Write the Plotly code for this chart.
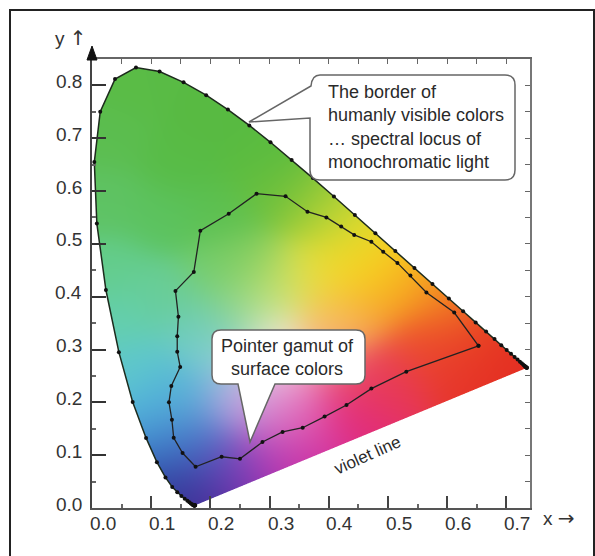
import base64
import struct
import zlib

import numpy as np
import plotly.graph_objects as go

# ---------------- data ----------------
# CIE 1931 spectral locus, 380..700 nm every 5 nm
locus_nm = list(range(380, 705, 5))
locus_x = [0.1741, 0.1740, 0.1738, 0.1736, 0.1733, 0.1730, 0.1726, 0.1721, 0.1714, 0.1703,
           0.1689, 0.1669, 0.1644, 0.1611, 0.1566, 0.1510, 0.1440, 0.1355, 0.1241, 0.1096,
           0.0913, 0.0687, 0.0454, 0.0235, 0.0082, 0.0039, 0.0139, 0.0389, 0.0743, 0.1142,
           0.1547, 0.1929, 0.2296, 0.2658, 0.3016, 0.3373, 0.3731, 0.4087, 0.4441, 0.4788,
           0.5125, 0.5448, 0.5752, 0.6029, 0.6270, 0.6482, 0.6658, 0.6801, 0.6915, 0.7006,
           0.7079, 0.7140, 0.7190, 0.7230, 0.7260, 0.7283, 0.7300, 0.7311, 0.7320, 0.7327,
           0.7334, 0.7340, 0.7344, 0.7346, 0.7347]
locus_y = [0.0050, 0.0050, 0.0049, 0.0049, 0.0048, 0.0048, 0.0048, 0.0048, 0.0051, 0.0058,
           0.0069, 0.0086, 0.0109, 0.0138, 0.0177, 0.0227, 0.0297, 0.0399, 0.0578, 0.0868,
           0.1327, 0.2007, 0.2950, 0.4127, 0.5384, 0.6548, 0.7502, 0.8120, 0.8338, 0.8262,
           0.8059, 0.7816, 0.7543, 0.7243, 0.6923, 0.6589, 0.6245, 0.5896, 0.5547, 0.5202,
           0.4866, 0.4544, 0.4242, 0.3965, 0.3725, 0.3514, 0.3340, 0.3197, 0.3083, 0.2993,
           0.2920, 0.2859, 0.2809, 0.2770, 0.2740, 0.2717, 0.2700, 0.2689, 0.2680, 0.2673,
           0.2666, 0.2660, 0.2656, 0.2654, 0.2653]

gamut_x = [0.653, 0.612, 0.565, 0.538, 0.516, 0.492, 0.472, 0.443, 0.421, 0.396, 0.364,
           0.327, 0.278, 0.231, 0.183, 0.172, 0.141, 0.146, 0.144, 0.144, 0.149, 0.134,
           0.130, 0.135, 0.138, 0.153, 0.175, 0.219, 0.250, 0.288, 0.322, 0.356, 0.393,
           0.430, 0.472, 0.531, 0.653]
gamut_y = [0.307, 0.370, 0.408, 0.440, 0.464, 0.485, 0.504, 0.517, 0.533, 0.550, 0.561,
           0.590, 0.595, 0.557, 0.525, 0.447, 0.411, 0.362, 0.325, 0.296, 0.267, 0.231,
           0.200, 0.167, 0.133, 0.104, 0.078, 0.097, 0.093, 0.125, 0.144, 0.152, 0.173,
           0.195, 0.226, 0.258, 0.307]

# colours at chromaticity positions (for the fill)
anchor_x = [0.07, 0.20, 0.03, 0.15, 0.28, 0.02, 0.12, 0.22, 0.32, 0.38, 0.43, 0.47, 0.51,
            0.55, 0.60, 0.66, 0.71, 0.58, 0.50, 0.45, 0.38, 0.30, 0.24, 0.19, 0.165, 0.155,
            0.14, 0.12, 0.08, 0.05, 0.03, 0.12, 0.17, 0.20, 0.24, 0.23, 0.27, 0.33, 0.36,
            0.30, 0.31, 0.31, 0.29, 0.27, 0.18, 0.155, 0.22, 0.40, 0.41, 0.45, 0.42, 0.47,
            0.40, 0.56, 0.615, 0.47, 0.50, 0.447, 0.35, 0.24, 0.22, 0.34]
anchor_y = [0.80, 0.74, 0.70, 0.65, 0.66, 0.58, 0.55, 0.55, 0.60, 0.56, 0.52, 0.48, 0.44,
            0.41, 0.37, 0.32, 0.28, 0.29, 0.25, 0.19, 0.14, 0.09, 0.05, 0.02, 0.04, 0.08,
            0.13, 0.19, 0.27, 0.36, 0.45, 0.40, 0.14, 0.10, 0.08, 0.19, 0.20, 0.18, 0.08,
            0.13, 0.26, 0.325, 0.40, 0.46, 0.33, 0.22, 0.28, 0.44, 0.36, 0.43, 0.337, 0.37,
            0.27, 0.305, 0.26, 0.243, 0.23, 0.167, 0.17, 0.37, 0.45, 0.43]
anchor_rgb = [(90, 188, 70), (88, 186, 66), (92, 190, 80), (88, 188, 70), (90, 188, 64),
              (95, 195, 100), (92, 195, 95), (92, 192, 80), (110, 192, 60), (160, 205, 55),
              (215, 220, 50), (245, 215, 35), (250, 190, 30), (245, 155, 35), (240, 115, 35),
              (232, 65, 35), (228, 45, 35), (232, 60, 50), (232, 60, 85), (228, 50, 125),
              (212, 45, 155), (180, 45, 175), (130, 45, 175), (70, 40, 150), (45, 55, 145),
              (45, 85, 175), (65, 140, 210), (85, 180, 220), (95, 200, 205), (100, 208, 175),
              (100, 205, 140), (105, 205, 150), (75, 135, 205), (80, 95, 195), (120, 75, 190),
              (170, 165, 225), (215, 170, 225), (228, 140, 210), (205, 50, 165), (190, 90, 195),
              (240, 205, 228), (242, 240, 222), (195, 228, 130), (135, 205, 90), (110, 205, 190),
              (80, 180, 215), (140, 208, 215), (240, 222, 50), (248, 195, 85), (250, 210, 30),
              (248, 190, 120), (245, 150, 40), (240, 130, 160), (240, 90, 40), (230, 50, 40),
              (235, 70, 90), (230, 50, 80), (225, 40, 120), (235, 110, 180), (125, 208, 150),
              (115, 205, 110), (215, 225, 90)]

x_ticks = [0.0, 0.1, 0.2, 0.3, 0.4, 0.5, 0.6, 0.7]
x_labels = ["0.0", "0.1", "0.2", "0.3", "0.4", "0.5", "0.6", "0.7"]
y_ticks = [0.0, 0.1, 0.2, 0.3, 0.4, 0.5, 0.6, 0.7, 0.8]
y_labels = ["0.0", "0.1", "0.2", "0.3", "0.4", "0.5", "0.6", "0.7", "0.8"]

X_RANGE = [0.0, 0.74]
Y_RANGE = [0.0, 0.85]

# ---------------- layout geometry ----------------
W, H = 595, 556
ML, MR, MT, MB = 92, 65, 59, 48
PW, PH = W - ML - MR, H - MT - MB


def P(xp, yp):
    """pixel position -> paper coordinates"""
    return (xp - ML) / PW, (H - MB - yp) / PH


def path_from_pixels(cmds):
    out = []
    for c in cmds:
        op = c[0]
        pts = c[1:]
        coords = []
        for i in range(0, len(pts), 2):
            px_, py_ = P(pts[i], pts[i + 1])
            coords.append(f"{px_:.5f},{py_:.5f}")
        out.append(op + " " + " ".join(coords))
    return " ".join(out) + " Z"


# ---------------- colour fill image ----------------
NX, NY = PW, PH
xs = X_RANGE[0] + (np.arange(NX) + 0.5) / NX * (X_RANGE[1] - X_RANGE[0])
ys = Y_RANGE[1] - (np.arange(NY) + 0.5) / NY * (Y_RANGE[1] - Y_RANGE[0])
GX, GY = np.meshgrid(xs, ys)

polx = np.array(locus_x)
poly = np.array(locus_y)


def inside(px_, py_):
    res = np.zeros(px_.shape, dtype=bool)
    n = len(polx)
    j = n - 1
    for i in range(n):
        xi, yi, xj, yj = polx[i], poly[i], polx[j], poly[j]
        cond = (yi > py_) != (yj > py_)
        xint = (xj - xi) * (py_ - yi) / ((yj - yi) if yj != yi else 1e-12) + xi
        res ^= cond & (px_ < xint)
        j = i
    return res


dxp = (X_RANGE[1] - X_RANGE[0]) / NX
dyp = (Y_RANGE[1] - Y_RANGE[0]) / NY
alpha = np.zeros(GX.shape)
SS = 3
for a in range(SS):
    for b in range(SS):
        ox = ((a + 0.5) / SS - 0.5) * dxp
        oy = ((b + 0.5) / SS - 0.5) * dyp
        alpha += inside(GX + ox, GY + oy)
alpha /= SS * SS

ax_ = np.array(anchor_x)[:, None, None]
ay_ = np.array(anchor_y)[:, None, None]
cols = np.array(anchor_rgb, dtype=float)
sig = 0.045
logw = -((GX[None] - ax_) ** 2 + (GY[None] - ay_) ** 2) / (2 * sig ** 2)
logw -= logw.max(axis=0, keepdims=True)
wts = np.exp(logw)
wts /= wts.sum(axis=0, keepdims=True)
rgb = np.einsum("kij,kc->ijc", wts, cols)

img = np.zeros((NY, NX, 4), dtype=np.uint8)
img[..., :3] = np.clip(rgb, 0, 255).astype(np.uint8)
img[..., 3] = np.clip(alpha * 255, 0, 255).astype(np.uint8)


def to_png(rgba):
    h, w, _ = rgba.shape
    raw = b"".join(b"\x00" + rgba[i].tobytes() for i in range(h))

    def chunk(t, d):
        return struct.pack(">I", len(d)) + t + d + struct.pack(">I", zlib.crc32(t + d) & 0xffffffff)

    return (b"\x89PNG\r\n\x1a\n"
            + chunk(b"IHDR", struct.pack(">IIBBBBB", w, h, 8, 6, 0, 0, 0))
            + chunk(b"IDAT", zlib.compress(raw, 9))
            + chunk(b"IEND", b""))


src = "data:image/png;base64," + base64.b64encode(to_png(img)).decode()

# ---------------- figure ----------------
FONT = "Liberation Sans, Arial, sans-serif"
fig = go.Figure()

fig.add_trace(go.Scatter(
    x=locus_x, y=locus_y, mode="lines+markers",
    line=dict(color="#1d2b1d", width=1.5),
    marker=dict(color="#111", size=4),
    hoverinfo="skip", showlegend=False))

fig.add_trace(go.Scatter(
    x=gamut_x, y=gamut_y, mode="lines+markers",
    line=dict(color="#222", width=1.3),
    marker=dict(color="#111", size=4),
    hoverinfo="skip", showlegend=False))

# dummy trace for mirrored top/right axes
fig.add_trace(go.Scatter(x=[None], y=[None], xaxis="x2", yaxis="y2",
                         showlegend=False, hoverinfo="skip"))

fig.add_layout_image(dict(source=src, xref="x", yref="y", x=X_RANGE[0], y=Y_RANGE[1],
                          sizex=X_RANGE[1] - X_RANGE[0], sizey=Y_RANGE[1] - Y_RANGE[0],
                          sizing="stretch", xanchor="left", yanchor="top", layer="below"))

axis_common = dict(showgrid=False, zeroline=False, showticklabels=False)
fig.update_layout(
    width=W, height=H, autosize=False,
    margin=dict(l=ML, r=MR, t=MT, b=MB, pad=0),
    paper_bgcolor="white", plot_bgcolor="white",
    xaxis=dict(range=X_RANGE, tickvals=x_ticks, ticks="inside", ticklen=12, tickwidth=1.5,
               tickcolor="#444", showline=True, linecolor="#555", linewidth=2,
               minor=dict(dtick=0.05, tick0=0, ticks="inside", ticklen=4, tickcolor="#666"),
               **axis_common),
    yaxis=dict(range=Y_RANGE, tickvals=y_ticks, ticks="inside", ticklen=14, tickwidth=2,
               tickcolor="#333", showline=True, linecolor="#444", linewidth=2,
               minor=dict(dtick=0.05, tick0=0, ticks="inside", ticklen=4, tickcolor="#666"),
               **axis_common),
    xaxis2=dict(range=X_RANGE, overlaying="x", side="top", dtick=0.05, tick0=0,
                ticks="inside", ticklen=5, tickcolor="#666", showline=True,
                linecolor="#666", linewidth=1.5, **axis_common),
    yaxis2=dict(range=Y_RANGE, overlaying="y", side="right", dtick=0.05, tick0=0,
                ticks="inside", ticklen=5, tickcolor="#666", showline=True,
                linecolor="#777", linewidth=1.5, **axis_common),
)

shapes = []
# outer frame
fx0, fy0 = P(10, 10)
fx1, fy1 = P(594, 575)
shapes.append(dict(type="rect", xref="paper", yref="paper", x0=fx0, y0=fy1, x1=fx1, y1=fy0,
                   line=dict(color="#222", width=2), fillcolor="rgba(0,0,0,0)"))
# y-axis arrow head
shapes.append(dict(type="path", xref="paper", yref="paper",
                   path=path_from_pixels([("M", 92, 46), ("L", 97, 60), ("L", 87, 60)]),
                   fillcolor="#111", line=dict(color="#111", width=1)))
# callout 1
c1 = [("M", 320, 75), ("L", 505, 75), ("Q", 515, 75, 515, 85), ("L", 515, 170),
      ("Q", 515, 180, 505, 180), ("L", 320, 180), ("Q", 310, 180, 310, 170),
      ("L", 310, 118), ("L", 249, 122), ("L", 311, 86), ("Q", 312, 75, 320, 75)]
shapes.append(dict(type="path", xref="paper", yref="paper", path=path_from_pixels(c1),
                   fillcolor="white", line=dict(color="#666", width=1.5)))
# callout 2
c2 = [("M", 221, 330), ("L", 356, 330), ("Q", 365, 330, 365, 339), ("L", 365, 375),
      ("Q", 365, 384, 356, 384), ("L", 275, 384), ("L", 250, 442), ("L", 238, 384),
      ("L", 221, 384), ("Q", 212, 384, 212, 375), ("L", 212, 339), ("Q", 212, 330, 221, 330)]
shapes.append(dict(type="path", xref="paper", yref="paper", path=path_from_pixels(c2),
                   fillcolor="white", line=dict(color="#666", width=1.5)))
fig.update_layout(shapes=shapes)

ann = []
TXT = "#333"
for v, lab in zip(x_ticks, x_labels):
    ann.append(dict(x=v, xref="x", y=0, yref="paper", text=lab, showarrow=False,
                    xanchor="center", yanchor="middle", xshift=11, yshift=-15,
                    font=dict(family=FONT, size=19, color=TXT)))
for v, lab in zip(y_ticks, y_labels):
    ann.append(dict(x=0, xref="paper", y=v, yref="y", text=lab, showarrow=False,
                    xanchor="right", yanchor="middle", xshift=-8, yshift=4,
                    font=dict(family=FONT, size=19, color=TXT)))

ARROW = "DejaVu Sans, sans-serif"
px_, py_ = P(71, 38)
ann.append(dict(x=px_, y=py_, xref="paper", yref="paper",
                text=f"y <span style='font-family:{ARROW};font-size:20px'>↑</span>",
                showarrow=False, xanchor="center", yanchor="middle",
                font=dict(family=FONT, size=19, color=TXT)))
px_, py_ = P(559, 518)
ann.append(dict(x=px_, y=py_, xref="paper", yref="paper",
                text=f"x <span style='font-family:{ARROW};font-size:20px'>→</span>",
                showarrow=False, xanchor="center", yanchor="middle",
                font=dict(family=FONT, size=19, color=TXT)))

px_, py_ = P(326, 127)
ann.append(dict(x=px_, y=py_, xref="paper", yref="paper",
                text="The border of<br>humanly visible colors<br>… spectral locus of<br>monochromatic light",
                showarrow=False, xanchor="left", yanchor="middle", align="left",
                font=dict(family=FONT, size=18, color="#2a2a2a")))
px_, py_ = P(287, 357)
ann.append(dict(x=px_, y=py_, xref="paper", yref="paper",
                text="Pointer gamut of<br>surface colors",
                showarrow=False, xanchor="center", yanchor="middle", align="center",
                font=dict(family=FONT, size=18, color="#2a2a2a")))
px_, py_ = P(367, 455)
ann.append(dict(x=px_, y=py_, xref="paper", yref="paper", text="violet line",
                showarrow=False, xanchor="center", yanchor="middle", textangle=-24,
                font=dict(family=FONT, size=17, color="#2a2a2a")))
fig.update_layout(annotations=ann)

fig.write_html("out.html", config={"displayModeBar": False})
